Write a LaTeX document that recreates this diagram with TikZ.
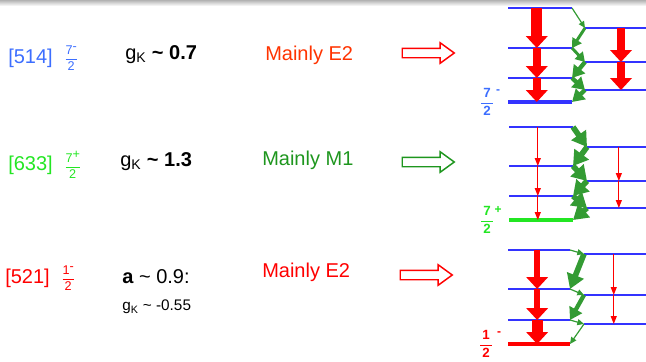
\documentclass[tikz,border=0pt]{standalone}
\usepackage{fontspec}
\setmainfont{Liberation Sans}
\usetikzlibrary{arrows.meta, positioning, calc, shapes.arrows}
\definecolor{orbblue}{RGB}{60,110,255}
\definecolor{orbgreen}{RGB}{35,230,35}
\definecolor{orbred}{RGB}{255,0,0}
\definecolor{eorange}{RGB}{255,51,0}
\definecolor{mgreen}{RGB}{30,150,30}
\definecolor{levelblue}{RGB}{51,51,255}
\definecolor{gammagreen}{RGB}{51,155,51}
\newcommand{\spinfrac}[2]{$\displaystyle\frac{\mbox{#1}}{\mbox{#2}}$}

\begin{document}
\begin{tikzpicture}[
			x=0.75pt, y=-0.75pt,
			orbit/.style={anchor=west, inner sep=0pt, font=\fontsize{15}{18}\selectfont},
			smallfrac/.style={inner sep=0pt, font=\fontsize{9.5}{11}\selectfont},
			bigfrac/.style={inner sep=0pt, font=\fontsize{10}{12}\selectfont\bfseries},
			parity/.style={inner sep=0pt, font=\fontsize{9}{10}\selectfont\bfseries},
			coupling/.style={anchor=west, inner sep=0pt, font=\fontsize{15}{18}\selectfont},
			mult/.style={anchor=west, inner sep=0pt, font=\fontsize{15}{18}\selectfont},
			hollow/.style={single arrow, draw, line width=1.1pt, fill=white, inner xsep=0pt, inner ysep=3pt,
				minimum height=39pt, single arrow head extend=4.1pt, single arrow tip angle=72},
			level/.style={levelblue, line width=1.2pt},
			bandhead/.style={line width=2.4pt},
			e2wide/.style={orbred, line width=8.2pt, -{Triangle[width=16pt, length=9pt]}},
			e2mid/.style={orbred, line width=5.6pt, -{Triangle[width=16pt, length=9pt]}},
			e2slim/.style={orbred, line width=4.5pt, -{Triangle[width=16pt, length=9pt]}},
			e2thin/.style={orbred, line width=0.9pt, -{Triangle[width=4.5pt, length=6pt]}},
			m1thin/.style={gammagreen, line width=0.9pt, -{Triangle[width=4.5pt, length=5pt]}},
			m1mid/.style={gammagreen, line width=2.2pt, -{Triangle[width=8pt, length=7pt]}},
			m1thick/.style={gammagreen, line width=3.2pt, -{Triangle[width=10.5pt, length=9pt]}},
			m1heavy/.style={gammagreen, line width=4.2pt, -{Triangle[width=13pt, length=11pt]}}
		]
		\useasboundingbox (0,0) rectangle (646,361);
		\shade[top color=black!30, bottom color=white] (0,0) rectangle (646,6);

		% Row 1: [514] 7/2-
		\node[orbit, orbblue] (nil514) at (8,58) {[514]};
		\node[smallfrac, orbblue, right=8pt of nil514] (spin514) {\spinfrac{7\raisebox{0.3em}{-}}{2}};
		\node[coupling] (gk514) at (125,55) {g\textsubscript{K} \textbf{\textasciitilde{} 0.7}};
		\node[mult, eorange] (mult514) at (265,55) {Mainly E2};
		\node[hollow, draw=orbred] (go514) at (425,53) {};

		% Row 2: [633] 7/2+
		\node[orbit, orbgreen] (nil633) at (8,165) {[633]};
		\node[smallfrac, orbgreen, right=8pt of nil633] (spin633) {\spinfrac{7\raisebox{0.3em}{+}}{2}};
		\node[coupling] (gk633) at (120,162) {g\textsubscript{K} \textbf{\textasciitilde{} 1.3}};
		\node[mult, mgreen] (mult633) at (262,160) {Mainly M1};
		\node[hollow, draw=mgreen] (go633) at (425,162) {};

		% Row 3: [521] 1/2-
		\node[orbit, orbred] (nil521) at (5,278) {[521]};
		\node[smallfrac, orbred, right=8pt of nil521] (spin521) {\spinfrac{1\raisebox{0.3em}{-}}{2}};
		\node[coupling] (dec521) at (122,277) {\textbf{a} \textasciitilde{} 0.9:};
		\node[coupling, font=\fontsize{11.5}{14}\selectfont] (gk521) at (122,307) {g\textsubscript{K} \textasciitilde{} -0.55};
		\node[mult, orbred] (mult521) at (262,272) {Mainly E2};
		\node[hollow, draw=orbred] (go521) at (423,275) {};

		% Band 1 levels
		\draw[level] (508,8) coordinate (aL1) -- (572,8) coordinate (aR1);
		\draw[level] (508,48) coordinate (aL2) -- (572,48) coordinate (aR2);
		\draw[level] (508,78) coordinate (aL3) -- (572,78) coordinate (aR3);
		\draw[level, bandhead] (508,102) coordinate (aL4) -- (572,102) coordinate (aR4);
		\draw[level] (585,28) coordinate (bL1) -- (646,28) coordinate (bR1);
		\draw[level] (585,62) coordinate (bL2) -- (646,62) coordinate (bR2);
		\draw[level] (585,90) coordinate (bL3) -- (646,90) coordinate (bR3);
		\node[bigfrac, orbblue] (spin1) at (487,102) {\spinfrac{\,7\,}{2}};
		\node[parity, orbblue] (par1) at (498,92) {-};
		\draw[e2wide] ($(aL1)!.45!(aR1)$) -- ($(aL2)!.45!(aR2)$);
		\draw[e2mid] ($(aL2)!.45!(aR2)$) -- ($(aL3)!.45!(aR3)$);
		\draw[e2mid] ($(aL3)!.45!(aR3)$) -- ($(aL4)!.45!(aR4)$);
		\draw[e2mid] ($(bL1)!.59!(bR1)$) -- ($(bL2)!.59!(bR2)$);
		\draw[e2mid] ($(bL2)!.59!(bR2)$) -- ($(bL3)!.59!(bR3)$);
		\draw[m1thin] (aR1) -- (bL1);
		\draw[m1mid] (bL1) -- (aR2);
		\draw[m1mid] (aR2) -- (bL2);
		\draw[m1thick] (bL2) -- (aR3);
		\draw[m1thick] (aR3) -- (bL3);
		\draw[m1thick] (bL3) -- (aR4);

		% Band 2 levels
		\draw[level] (509,127) coordinate (cL1) -- (573,127) coordinate (cR1);
		\draw[level] (509,166) coordinate (cL2) -- (573,166) coordinate (cR2);
		\draw[level] (509,196) coordinate (cL3) -- (573,196) coordinate (cR3);
		\draw[level, bandhead, orbgreen] (509,220) coordinate (cL4) -- (573,220) coordinate (cR4);
		\draw[level] (587,147) coordinate (dL1) -- (646,147) coordinate (dR1);
		\draw[level] (587,181) coordinate (dL2) -- (646,181) coordinate (dR2);
		\draw[level] (587,208) coordinate (dL3) -- (646,208) coordinate (dR3);
		\node[bigfrac, orbgreen] (spin2) at (487,220) {\spinfrac{\,7\,}{2}};
		\node[parity, orbgreen] (par2) at (498,210) {+};
		\draw[e2thin] ($(cL1)!.45!(cR1)$) -- ($(cL2)!.45!(cR2)$);
		\draw[e2thin] ($(cL2)!.45!(cR2)$) -- ($(cL3)!.45!(cR3)$);
		\draw[e2thin] ($(cL3)!.45!(cR3)$) -- ($(cL4)!.45!(cR4)$);
		\draw[e2thin] ($(dL1)!.54!(dR1)$) -- ($(dL2)!.54!(dR2)$);
		\draw[e2thin] ($(dL2)!.54!(dR2)$) -- ($(dL3)!.54!(dR3)$);
		\draw[m1heavy] (cR1) -- (dL1);
		\draw[m1heavy] (dL1) -- (cR2);
		\draw[m1heavy] (cR2) -- (dL2);
		\draw[m1heavy] (dL2) -- (cR3);
		\draw[m1heavy] (cR3) -- (dL3);
		\draw[m1heavy] (dL3) -- (cR4);

		% Band 3 levels
		\draw[level] (508,250) coordinate (eL1) -- (570,250) coordinate (eR1);
		\draw[level] (508,289) coordinate (eL2) -- (570,289) coordinate (eR2);
		\draw[level] (508,320) coordinate (eL3) -- (570,320) coordinate (eR3);
		\draw[level, bandhead, orbred] (508,344) coordinate (eL4) -- (570,344) coordinate (eR4);
		\draw[level] (584,254) coordinate (fL1) -- (646,254) coordinate (fR1);
		\draw[level] (584,295) coordinate (fL2) -- (646,295) coordinate (fR2);
		\draw[level] (584,324) coordinate (fL3) -- (646,324) coordinate (fR3);
		\node[bigfrac, orbred] (spin3) at (486,344) {\spinfrac{\,1\,}{2}};
		\node[parity, orbred] (par3) at (499,334) {-};
		\draw[e2slim] ($(eL1)!.47!(eR1)$) -- ($(eL2)!.47!(eR2)$);
		\draw[e2slim] ($(eL2)!.47!(eR2)$) -- ($(eL3)!.47!(eR3)$);
		\draw[e2wide] ($(eL3)!.47!(eR3)$) -- ($(eL4)!.47!(eR4)$);
		\draw[e2thin] ($(fL1)!.48!(fR1)$) -- ($(fL2)!.48!(fR2)$);
		\draw[e2thin] ($(fL2)!.48!(fR2)$) -- ($(fL3)!.48!(fR3)$);
		\draw[m1thin] (eR1) -- (fL1);
		\draw[m1heavy] (fL1) -- (eR2);
		\draw[m1thin] (eR2) -- (fL2);
		\draw[m1thick] (fL2) -- (eR3);
		\draw[m1thin] (eR3) -- (fL3);
		\draw[m1thin] (fL3) -- (eR4);
\end{tikzpicture}
\end{document}
